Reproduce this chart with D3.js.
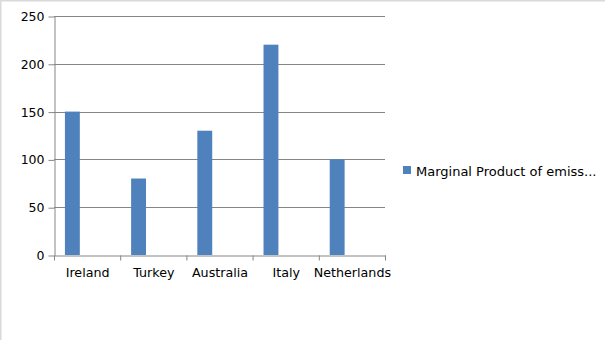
<!DOCTYPE html>
<html><head><meta charset="utf-8">
<script src="https://cdn.jsdelivr.net/npm/d3@7"></script>
<style>body{margin:0;background:#fff}svg{display:block}text{font-family:"DejaVu Sans",sans-serif}</style>
</head><body><svg id="c" width="605" height="340"></svg>
<script>
const categories = ["Ireland","Turkey","Australia","Italy","Netherlands"];
const values = [150, 80, 130, 220, 100];
const seriesName = "Marginal Product of emiss...";
const yTicks = [0, 50, 100, 150, 200, 250];

const svg = d3.select("#c");
svg.append("rect").attr("x",0).attr("y",0).attr("width",605).attr("height",340).attr("fill","#fff");
svg.append("path").attr("d","M0.75,340V0.75H605").attr("fill","none").attr("stroke","#d9d9d9").attr("stroke-width",1.5);

const L=54, R=385, T=16, B=255;
const x = d3.scaleBand().domain(categories).range([L,R]).paddingInner(0).paddingOuter(0);
const y = d3.scaleLinear().domain([0,250]).range([B,T]);
const axisColor = "#868686";

// grid
svg.append("g").selectAll("line").data(yTicks.filter(d=>d>0)).join("line")
  .attr("x1",L).attr("x2",R).attr("y1",d=>Math.round(y(d))+0.5).attr("y2",d=>Math.round(y(d))+0.5)
  .attr("stroke",axisColor).attr("stroke-width",1);

// bars
const bw = x.bandwidth();
svg.append("g").selectAll("rect").data(values).join("rect")
  .attr("x",(d,i)=>x(categories[i]) + bw*0.165)
  .attr("width", bw*0.225)
  .attr("y",d=>y(d)).attr("height",d=>B-y(d))
  .attr("fill","#4f81bd");

// y axis
const ya = svg.append("g").attr("transform",`translate(${L+0.5},0.5)`)
  .call(d3.axisLeft(y).tickValues(yTicks).tickSize(6).tickPadding(4).tickSizeOuter(0));
ya.select(".domain").attr("stroke",axisColor);
ya.selectAll(".tick line").attr("stroke",axisColor);
ya.selectAll(".tick text").attr("fill","#000").style("font-size","12.5px").attr("font-family","DejaVu Sans");

// x axis
const xa = svg.append("g").attr("transform",`translate(0.5,${B+0.5})`)
  .call(d3.axisBottom(x).tickSize(0).tickPadding(12).tickSizeOuter(0));
xa.select(".domain").attr("stroke",axisColor);
xa.selectAll(".tick text").attr("fill","#000").style("font-size","12.7px").attr("font-family","DejaVu Sans");
// category boundary ticks
const bounds = categories.map(c=>x(c)).concat([R]);
xa.append("g").selectAll("line").data(bounds).join("line")
  .attr("x1",d=>d).attr("x2",d=>d).attr("y1",0).attr("y2",5).attr("stroke",axisColor);

// legend
const lg = svg.append("g").attr("transform","translate(403,166)");
lg.append("rect").attr("width",8).attr("height",8).attr("fill","#4f81bd");
lg.append("text").attr("x",13).attr("y",9.5).style("font-size","13px").attr("fill","#000").text(seriesName);
</script></body></html>
